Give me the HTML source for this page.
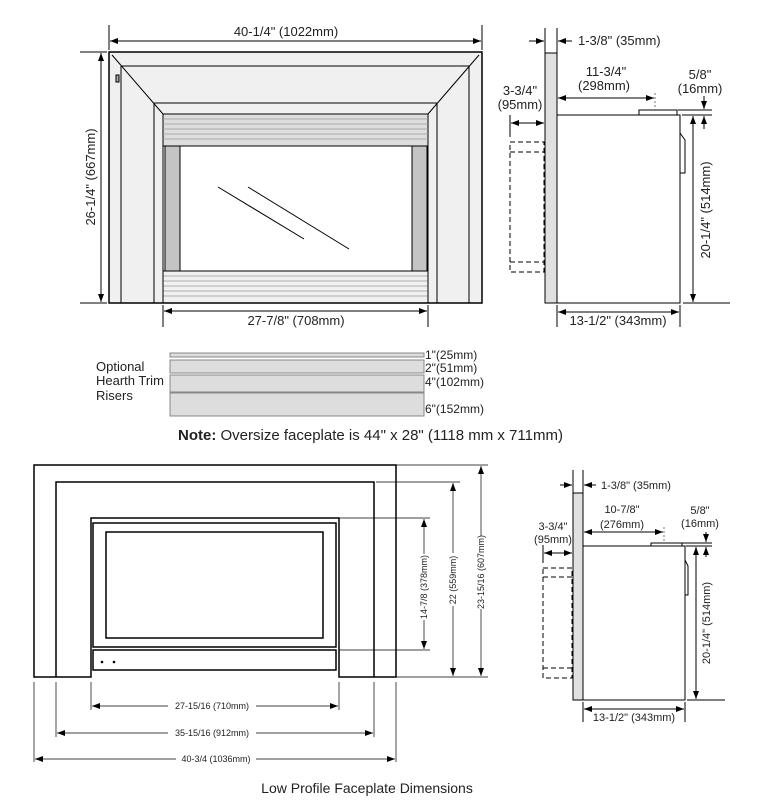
<!DOCTYPE html>
<html><head><meta charset="utf-8"><style>
html,body{margin:0;padding:0;background:#fff;}
svg{display:block;font-family:"Liberation Sans",Arial,sans-serif;}
</style></head><body>
<svg width="779" height="800" viewBox="0 0 779 800" xmlns="http://www.w3.org/2000/svg">
<defs>
<marker id="a" markerWidth="8" markerHeight="6" refX="8" refY="3" orient="auto-start-reverse" markerUnits="userSpaceOnUse"><path d="M0,0 L8,3 L0,6 z" fill="#000"/></marker>
</defs>
<g stroke="#000" fill="none" stroke-width="1">
<!-- TOP LEFT FRONT -->
<rect x="109" y="52" width="373" height="251" fill="#f0f0f0" stroke-width="1.5"/>
<line x1="121" y1="66" x2="121" y2="303"/><line x1="469" y1="66" x2="469" y2="303"/>
<line x1="121" y1="66" x2="469" y2="66"/>
<line x1="112" y1="55" x2="163" y2="114"/><line x1="479" y1="55" x2="428" y2="114"/>
<line x1="154" y1="103" x2="437" y2="103"/><line x1="154" y1="103" x2="154" y2="303"/><line x1="437" y1="103" x2="437" y2="303"/>
<rect x="163" y="114" width="265" height="32" fill="#ddd"/>
<g stroke="#999" stroke-width="0.8">
<line x1="163" y1="119" x2="428" y2="119"/><line x1="163" y1="124" x2="428" y2="124"/><line x1="163" y1="129" x2="428" y2="129"/><line x1="163" y1="134" x2="428" y2="134"/><line x1="163" y1="139" x2="428" y2="139"/>
<line x1="163" y1="276" x2="428" y2="276"/><line x1="163" y1="281" x2="428" y2="281"/><line x1="163" y1="286" x2="428" y2="286"/><line x1="163" y1="291" x2="428" y2="291"/><line x1="163" y1="296" x2="428" y2="296"/>
</g>
<rect x="163" y="271" width="265" height="32" fill="none"/>
<rect x="163" y="146" width="265" height="125" fill="#fff"/>
<rect x="165" y="146" width="15" height="125" fill="#c4c4c4"/>
<rect x="412" y="146" width="15" height="125" fill="#c4c4c4"/>
<line x1="218" y1="187" x2="304" y2="239"/><line x1="248" y1="187" x2="349" y2="249"/>
<rect x="116" y="75" width="3" height="7" fill="#aaa"/>
<line x1="109" y1="25" x2="109" y2="50"/><line x1="482" y1="25" x2="482" y2="50"/>
<line x1="110" y1="41" x2="481" y2="41" marker-start="url(#a)" marker-end="url(#a)"/>
<line x1="80" y1="52" x2="107" y2="52"/><line x1="80" y1="303" x2="107" y2="303"/>
<line x1="101" y1="53" x2="101" y2="302" marker-start="url(#a)" marker-end="url(#a)"/>
<line x1="163" y1="305" x2="163" y2="327"/><line x1="428" y1="305" x2="428" y2="327"/>
<line x1="164" y1="311" x2="427" y2="311" marker-start="url(#a)" marker-end="url(#a)"/>
<!-- TOP RIGHT SIDE -->
<rect x="545" y="53" width="12" height="250" fill="#e0e0e0"/>
<line x1="545" y1="28" x2="545" y2="53"/><line x1="557" y1="28" x2="557" y2="53"/>
<line x1="529" y1="41" x2="544" y2="41" marker-end="url(#a)"/><line x1="572" y1="41" x2="558" y2="41" marker-end="url(#a)"/>
<rect x="557" y="115" width="123" height="188" fill="#fff"/>
<rect x="639" y="110" width="38" height="5" fill="#fff"/>
<path d="M680,133 L685,140 L685,173 L680,173"/>
<line x1="558" y1="98" x2="654" y2="98" marker-start="url(#a)" marker-end="url(#a)"/>
<line x1="655" y1="93" x2="655" y2="110" stroke-dasharray="2,2" stroke="#777"/>
<line x1="510" y1="115" x2="510" y2="137"/>
<line x1="511" y1="123" x2="544" y2="123" marker-start="url(#a)" marker-end="url(#a)"/>
<g stroke-dasharray="5,3"><rect x="510" y="142" width="34" height="130"/><line x1="510" y1="152" x2="544" y2="152"/><line x1="510" y1="262" x2="544" y2="262"/></g>
<line x1="678" y1="110" x2="712" y2="110"/><line x1="682" y1="115" x2="712" y2="115"/>
<line x1="704" y1="96" x2="704" y2="109" marker-end="url(#a)"/><line x1="704" y1="129" x2="704" y2="116" marker-end="url(#a)"/>
<line x1="683" y1="303" x2="730" y2="303"/>
<line x1="693" y1="116" x2="693" y2="302" marker-start="url(#a)" marker-end="url(#a)"/>
<line x1="557" y1="305" x2="557" y2="327"/><line x1="680" y1="305" x2="680" y2="327"/>
<line x1="558" y1="312" x2="679" y2="312" marker-start="url(#a)" marker-end="url(#a)"/>
<!-- RISERS -->
<rect x="170" y="353" width="254" height="4" fill="#ddd" stroke="#888"/>
<rect x="170" y="360" width="254" height="13" fill="#ddd" stroke="#888"/>
<rect x="170" y="375" width="254" height="17" fill="#ddd" stroke="#888"/>
<rect x="170" y="393" width="254" height="23" fill="#ddd" stroke="#888"/>
<!-- BOTTOM LEFT FRONT -->
<path d="M34,677 L34,465 L396,465 L396,677 L339,677 L339,518 L91,518 L91,677 Z" stroke-width="1.5"/>
<path d="M56,677 L56,482 L374,482 L374,677" stroke-width="1.5"/>
<line x1="34" y1="677" x2="91" y2="677"/>
<rect x="93" y="523" width="243" height="124" stroke-width="1.5"/>
<rect x="106" y="532" width="217" height="106" stroke-width="1.5"/>
<rect x="93" y="650" width="243" height="20" stroke-width="1.5"/>
<circle cx="102" cy="662" r="0.8" fill="#000"/><circle cx="114" cy="662" r="0.8" fill="#000"/>
<g stroke-width="0.7">
<line x1="339" y1="518" x2="430" y2="518"/><line x1="339" y1="650" x2="430" y2="650"/>
<line x1="376" y1="482" x2="460" y2="482"/><line x1="396" y1="465" x2="488" y2="465"/><line x1="396" y1="677" x2="488" y2="677"/>
<line x1="424" y1="519" x2="424" y2="554" marker-start="url(#a)"/><line x1="424" y1="620" x2="424" y2="649" marker-end="url(#a)"/>
<line x1="453" y1="483" x2="453" y2="553" marker-start="url(#a)"/><line x1="453" y1="606" x2="453" y2="676" marker-end="url(#a)"/>
<line x1="481" y1="466" x2="481" y2="536" marker-start="url(#a)"/><line x1="481" y1="609" x2="481" y2="676" marker-end="url(#a)"/>
<line x1="34" y1="682" x2="34" y2="762"/><line x1="396" y1="682" x2="396" y2="762"/>
<line x1="56" y1="682" x2="56" y2="737"/><line x1="374" y1="682" x2="374" y2="737"/>
<line x1="91" y1="682" x2="91" y2="710"/><line x1="339" y1="682" x2="339" y2="710"/>
<line x1="92" y1="706" x2="168" y2="706" marker-start="url(#a)"/><line x1="256" y1="706" x2="338" y2="706" marker-end="url(#a)"/>
<line x1="57" y1="733" x2="168" y2="733" marker-start="url(#a)"/><line x1="256" y1="733" x2="373" y2="733" marker-end="url(#a)"/>
<line x1="35" y1="759" x2="176" y2="759" marker-start="url(#a)"/><line x1="256" y1="759" x2="395" y2="759" marker-end="url(#a)"/>
</g>
<!-- BOTTOM RIGHT SIDE -->
<rect x="573" y="493" width="10" height="207" fill="#e0e0e0"/>
<line x1="573" y1="470" x2="573" y2="493"/><line x1="583" y1="470" x2="583" y2="493"/>
<line x1="560" y1="485" x2="572" y2="485" marker-end="url(#a)"/><line x1="596" y1="485" x2="584" y2="485" marker-end="url(#a)"/>
<rect x="583" y="546" width="102" height="154" fill="#fff"/>
<rect x="651" y="543" width="31" height="3" fill="#fff"/>
<path d="M685,560 L688,566 L688,595 L685,595"/>
<line x1="584" y1="532" x2="663" y2="532" marker-start="url(#a)" marker-end="url(#a)"/>
<line x1="664" y1="527" x2="664" y2="543" stroke-dasharray="2,2" stroke="#777"/>
<line x1="543" y1="545" x2="543" y2="563"/>
<line x1="544" y1="553" x2="572" y2="553" marker-start="url(#a)" marker-end="url(#a)"/>
<g stroke-dasharray="5,3"><rect x="543" y="568" width="29" height="110"/><line x1="543" y1="577" x2="572" y2="577"/><line x1="543" y1="668" x2="572" y2="668"/></g>
<line x1="682" y1="543" x2="712" y2="543"/><line x1="686" y1="546" x2="712" y2="546"/>
<line x1="706" y1="532" x2="706" y2="542" marker-end="url(#a)"/><line x1="706" y1="557" x2="706" y2="547" marker-end="url(#a)"/>
<line x1="687" y1="700" x2="725" y2="700"/>
<line x1="696" y1="547" x2="696" y2="699" marker-start="url(#a)" marker-end="url(#a)"/>
<line x1="583" y1="702" x2="583" y2="722"/><line x1="685" y1="702" x2="685" y2="722"/>
<line x1="584" y1="709" x2="684" y2="709" marker-start="url(#a)" marker-end="url(#a)"/>
</g>
<g fill="#222" font-size="13">
<text x="286" y="36" text-anchor="middle">40-1/4" (1022mm)</text>
<text transform="translate(95,177) rotate(-90)" text-anchor="middle">26-1/4" (667mm)</text>
<text x="296" y="325" text-anchor="middle">27-7/8" (708mm)</text>
<text x="578" y="45">1-3/8" (35mm)</text>
<text x="606" y="76" text-anchor="middle">11-3/4"</text>
<text x="604" y="90" text-anchor="middle">(298mm)</text>
<text x="520" y="95" text-anchor="middle">3-3/4"</text>
<text x="520" y="109" text-anchor="middle">(95mm)</text>
<text x="700" y="79" text-anchor="middle">5/8"</text>
<text x="700" y="93" text-anchor="middle">(16mm)</text>
<text transform="translate(710,210) rotate(-90)" text-anchor="middle">20-1/4" (514mm)</text>
<text x="618" y="325" text-anchor="middle">13-1/2" (343mm)</text>
<text x="96" y="371">Optional</text>
<text x="96" y="385">Hearth Trim</text>
<text x="96" y="400">Risers</text>
<text x="425" y="359" font-size="12">1"(25mm)</text>
<text x="425" y="372" font-size="12">2"(51mm)</text>
<text x="425" y="386" font-size="12">4"(102mm)</text>
<text x="425" y="413" font-size="12">6"(152mm)</text>
<text x="178" y="440" font-size="15"><tspan font-weight="bold">Note:</tspan> Oversize faceplate is 44" x 28" (1118 mm x 711mm)</text>
<g font-size="9">
<text x="212" y="709" text-anchor="middle">27-15/16 (710mm)</text>
<text x="212" y="736" text-anchor="middle">35-15/16 (912mm)</text>
<text x="216" y="762" text-anchor="middle">40-3/4 (1036mm)</text>
<text transform="translate(427,587) rotate(-90)" text-anchor="middle">14-7/8 (378mm)</text>
<text transform="translate(456,580) rotate(-90)" text-anchor="middle">22 (559mm)</text>
<text transform="translate(484,572) rotate(-90)" text-anchor="middle">23-15/16 (607mm)</text>
</g>
<g font-size="11">
<text x="601" y="489">1-3/8" (35mm)</text>
<text x="622" y="513" text-anchor="middle">10-7/8"</text>
<text x="622" y="528" text-anchor="middle">(276mm)</text>
<text x="553" y="530" text-anchor="middle">3-3/4"</text>
<text x="553" y="543" text-anchor="middle">(95mm)</text>
<text x="700" y="514" text-anchor="middle">5/8"</text>
<text x="700" y="527" text-anchor="middle">(16mm)</text>
<text transform="translate(710,623) rotate(-90)" text-anchor="middle">20-1/4" (514mm)</text>
<text x="634" y="721" text-anchor="middle">13-1/2" (343mm)</text>
</g>
<text x="367" y="793" text-anchor="middle" font-size="14">Low Profile Faceplate Dimensions</text>
</g>
</svg>
</body></html>
